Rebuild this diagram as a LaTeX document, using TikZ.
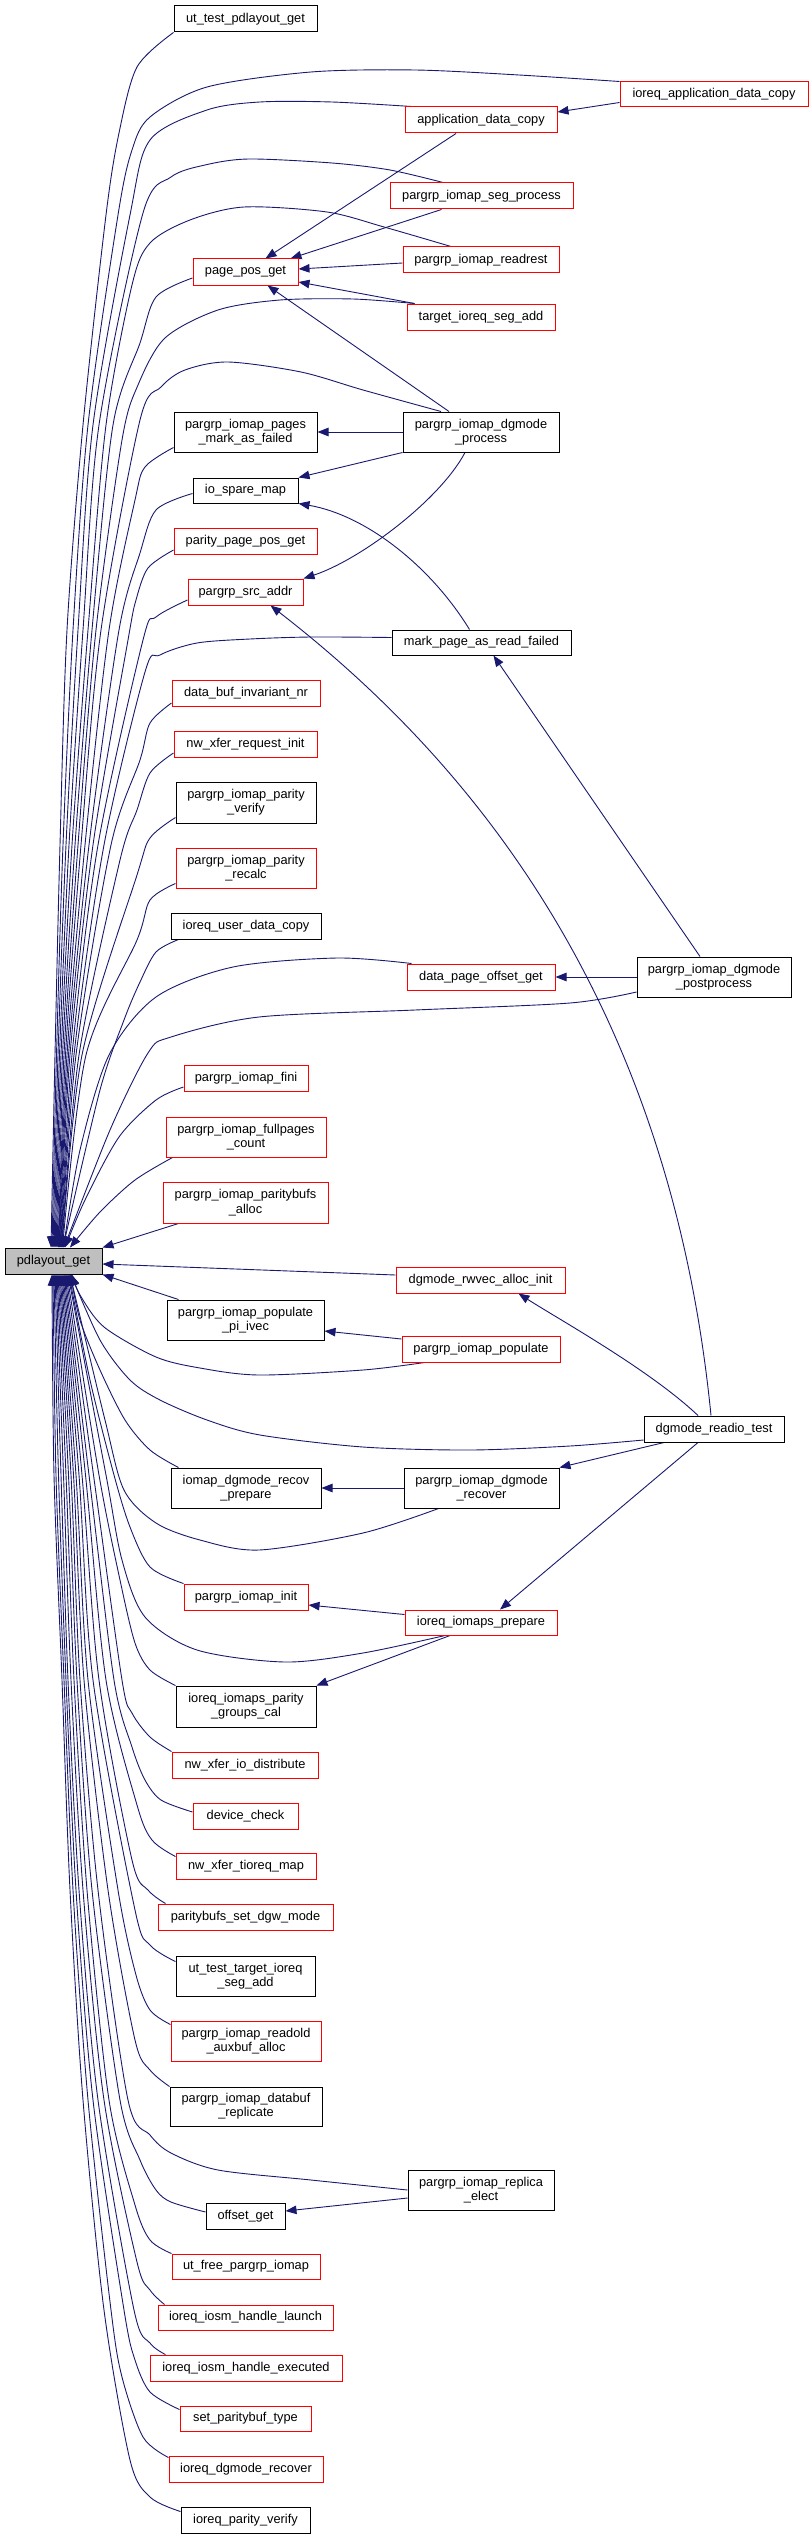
\documentclass[tikz,border=0pt]{standalone}
\usepackage{fontspec}
\setmainfont{Liberation Sans}
\usetikzlibrary{arrows.meta}
\definecolor{edgeblue}{HTML}{191970}
\definecolor{nodegray}{HTML}{BFBFBF}
\pgfdeclarelayer{paper}
\pgfdeclarelayer{edges}
\pgfsetlayers{paper,edges,main}
\tikzset{
  fn/.style={draw=black, line width=1pt, inner sep=0pt, align=center, fill=white,
    font=\fontsize{12.8}{14.3}\selectfont},
  rn/.style={fn, draw=red},
  ed/.style={draw=edgeblue, line width=0.9pt, -{Triangle[length=11pt,width=8.5pt]}},
  sm/.style={smooth, tension=0.5}
}
\begin{document}
\begin{tikzpicture}[x=1pt,y=-1pt]
\begin{pgfonlayer}{paper}
\fill[white] (0,0) rectangle (809,2539);
\end{pgfonlayer}
\useasboundingbox (0,0) rectangle (809,2539);
% nodes
\node[fn,minimum width=143pt,minimum height=26pt] (ut) at (245.5,19) {ut\_test\_pdlayout\_get};
\node[rn,minimum width=188pt,minimum height=25pt] (iadc) at (714,94.5) {ioreq\_application\_data\_copy};
\node[rn,minimum width=152pt,minimum height=26pt] (adc) at (481,120) {application\_data\_copy};
\node[rn,minimum width=183pt,minimum height=26pt] (segp) at (481.5,196) {pargrp\_iomap\_seg\_process};
\node[rn,minimum width=105pt,minimum height=26pt] (ppg) at (245.5,272) {page\_pos\_get};
\node[rn,minimum width=156pt,minimum height=26pt] (rr) at (481,260) {pargrp\_iomap\_readrest};
\node[rn,minimum width=148pt,minimum height=26pt] (tisa) at (481,317) {target\_ioreq\_seg\_add};
\node[fn,minimum width=143pt,minimum height=40pt] (maf) at (245.5,432) {pargrp\_iomap\_pages\\\_mark\_as\_failed};
\node[fn,minimum width=156pt,minimum height=40pt] (dgp) at (481,432) {pargrp\_iomap\_dgmode\\\_process};
\node[fn,minimum width=105pt,minimum height=25pt] (ism) at (245.5,490.5) {io\_spare\_map};
\node[rn,minimum width=143pt,minimum height=26pt] (pppg) at (245.5,541) {parity\_page\_pos\_get};
\node[rn,minimum width=115pt,minimum height=26pt] (psa) at (245.5,592) {pargrp\_src\_addr};
\node[fn,minimum width=179pt,minimum height=25pt] (mpf) at (481.5,642.5) {mark\_page\_as\_read\_failed};
\node[rn,minimum width=148pt,minimum height=26pt] (dbin) at (246,693) {data\_buf\_invariant\_nr};
\node[rn,minimum width=143pt,minimum height=26pt] (nxri) at (245.5,744) {nw\_xfer\_request\_init};
\node[fn,minimum width=140pt,minimum height=41pt] (ppv) at (246,802.5) {pargrp\_iomap\_parity\\\_verify};
\node[rn,minimum width=140pt,minimum height=40pt] (ppr) at (246,868) {pargrp\_iomap\_parity\\\_recalc};
\node[fn,minimum width=150pt,minimum height=26pt] (iudc) at (246,926) {ioreq\_user\_data\_copy};
\node[rn,minimum width=148pt,minimum height=26pt] (dpog) at (481,977) {data\_page\_offset\_get};
\node[fn,minimum width=154pt,minimum height=40pt] (dpp) at (714,977) {pargrp\_iomap\_dgmode\\\_postprocess};
\node[rn,minimum width=124pt,minimum height=26pt] (fini) at (246,1078) {pargrp\_iomap\_fini};
\node[rn,minimum width=160pt,minimum height=40pt] (fpc) at (246,1137) {pargrp\_iomap\_fullpages\\\_count};
\node[rn,minimum width=165pt,minimum height=41pt] (pba) at (245.5,1202.5) {pargrp\_iomap\_paritybufs\\\_alloc};
\node[fn,fill=nodegray,minimum width=97pt,minimum height=26pt] (pdl) at (53.5,1261) {pdlayout\_get};
\node[rn,minimum width=169pt,minimum height=26pt] (rwv) at (480.5,1280) {dgmode\_rwvec\_alloc\_init};
\node[fn,minimum width=157pt,minimum height=40pt] (ppi) at (245.5,1320) {pargrp\_iomap\_populate\\\_pi\_ivec};
\node[rn,minimum width=158pt,minimum height=26pt] (pop) at (481,1349) {pargrp\_iomap\_populate};
\node[fn,minimum width=140pt,minimum height=26pt] (drt) at (714,1429) {dgmode\_readio\_test};
\node[fn,minimum width=150pt,minimum height=40pt] (idrp) at (246,1488) {iomap\_dgmode\_recov\\\_prepare};
\node[fn,minimum width=155pt,minimum height=40pt] (pdr) at (481.5,1488) {pargrp\_iomap\_dgmode\\\_recover};
\node[rn,minimum width=124pt,minimum height=26pt] (init) at (246,1597) {pargrp\_iomap\_init};
\node[rn,minimum width=152pt,minimum height=25pt] (iip) at (481,1622.5) {ioreq\_iomaps\_prepare};
\node[fn,minimum width=140pt,minimum height=41pt] (ipgc) at (246,1706.5) {ioreq\_iomaps\_parity\\\_groups\_cal};
\node[rn,minimum width=146pt,minimum height=26pt] (nxid) at (245,1765) {nw\_xfer\_io\_distribute};
\node[rn,minimum width=105pt,minimum height=26pt] (dc) at (245.5,1816) {device\_check};
\node[rn,minimum width=140pt,minimum height=26pt] (nxtm) at (246,1866) {nw\_xfer\_tioreq\_map};
\node[rn,minimum width=175pt,minimum height=26pt] (psdm) at (245.5,1917) {paritybufs\_set\_dgw\_mode};
\node[fn,minimum width=139pt,minimum height=40pt] (uttisa) at (245.5,1976) {ut\_test\_target\_ioreq\\\_seg\_add};
\node[rn,minimum width=150pt,minimum height=40pt] (roaa) at (246,2041) {pargrp\_iomap\_readold\\\_auxbuf\_alloc};
\node[fn,minimum width=152pt,minimum height=39pt] (dbr) at (246,2106.5) {pargrp\_iomap\_databuf\\\_replicate};
\node[fn,minimum width=146pt,minimum height=40pt] (pre) at (481,2190) {pargrp\_iomap\_replica\\\_elect};
\node[fn,minimum width=79pt,minimum height=26pt] (og) at (245.5,2216) {offset\_get};
\node[rn,minimum width=148pt,minimum height=25pt] (ufpi) at (246,2266.5) {ut\_free\_pargrp\_iomap};
\node[rn,minimum width=175pt,minimum height=25pt] (ihl) at (245.5,2317.5) {ioreq\_iosm\_handle\_launch};
\node[rn,minimum width=192pt,minimum height=26pt] (ihe) at (246,2368) {ioreq\_iosm\_handle\_executed};
\node[rn,minimum width=131pt,minimum height=25pt] (spt) at (245.5,2418.5) {set\_paritybuf\_type};
\node[rn,minimum width=154pt,minimum height=26pt] (idr) at (246,2469) {ioreq\_dgmode\_recover};
\node[fn,minimum width=129pt,minimum height=26pt] (ipv) at (245.5,2520) {ioreq\_parity\_verify};

\begin{pgfonlayer}{edges}
% ---- edges into the top of pdlayout_get
\draw[ed] plot[sm] coordinates {(ut.south west) (137,67) (119,133) (106,215) (83,425) (67,630) (60,845) (55,1055) ([xshift=-2.5pt]pdl.north)};
\draw[ed] plot[sm] coordinates {(iadc.north west) (519,75) (415,70) (311,72) (207,87) (150,117) (132,150) (118,215) (88,425) (73,630) (63,845) (56.5,1055) ([xshift=-1.5pt]pdl.north)};
\draw[ed] plot[sm] coordinates {([xshift=7pt]adc.north west) (332,102) (260,102) (207,110) (150,140) (130,215) (93,425) (78,630) (66,845) (58,1055) ([xshift=-0.5pt]pdl.north)};
\draw[ed] plot[sm] coordinates {([xshift=-38.5pt]segp.north) (390,170) (332,163) (249,159) (205,165) (171,177) (143,213) (99,425) (83,630) (69,845) (59.5,1055) ([xshift=0.5pt]pdl.north)};
\draw[ed] plot[sm] coordinates {([xshift=-30pt]rr.north) (384,227) (327,212) (244,207) (190,220) (150,243) (132,285) (106,425) (88,630) (72,845) (61,1055) ([xshift=1.5pt]pdl.north)};
\draw[ed] plot[sm] coordinates {([yshift=-6pt]ppg.west) (156,297) (140,343) (113,425) (92,630) (75,845) (62.5,1055) ([xshift=2.5pt]pdl.north)};
\draw[ed] plot[sm] coordinates {([xshift=8pt]tisa.north west) (353,299) (280,300) (218,310) (165,338) (138,385) (122,440) (96,630) (78,845) (64,1055) ([xshift=3.5pt]pdl.north)};
\draw[ed] plot[sm] coordinates {([xshift=-40pt]dgp.north) (363,390) (301,372) (228,362) (185,370) (161,387) (140,420) (101,630) (81,845) (65.5,1055) ([xshift=4.5pt]pdl.north)};
\draw[ed] plot[sm] coordinates {([yshift=5pt]maf.south west) (145,467) (135,500) (109,630) (85,845) (67,1055) ([xshift=5pt]pdl.north)};
\draw[ed] plot[sm] coordinates {([yshift=-3pt]ism.west) (156,510) (140,553) (119,630) (89,845) (68.5,1055) ([xshift=5.5pt]pdl.north)};
\draw[ed] plot[sm] coordinates {([yshift=-9pt]pppg.west) (148,568) (136,600) (128,640) (93,845) (70,1055) ([xshift=6pt]pdl.north)};
\draw[ed] plot[sm] coordinates {([yshift=-8pt]psa.west) (156,617) (143,640) (98,845) (72,1055) ([xshift=6.5pt]pdl.north)};
\draw[ed] plot[sm] coordinates {([yshift=5pt]mpf.west) (311,637) (250,639) (197,643) (160,655) (145,672) (104,845) (74,1055) ([xshift=7pt]pdl.north)};
\draw[ed] plot[sm] coordinates {([yshift=-10pt]dbin.west) (150,723) (140,760) (111,845) (76,1055) ([xshift=7.5pt]pdl.north)};
\draw[ed] plot[sm] coordinates {([yshift=-9pt]nxri.west) (150,773) (137,810) (120,860) (79,1055) ([xshift=8pt]pdl.north)};
\draw[ed] plot[sm] coordinates {([yshift=6pt]ppv.south west) (150,838) (137,875) (82,1055) ([xshift=8.5pt]pdl.north)};
\draw[ed] plot[sm] coordinates {([yshift=5pt]ppr.south west) (150,900) (137,940) (86,1055) ([xshift=9pt]pdl.north)};
\draw[ed] plot[sm] coordinates {([xshift=8pt]iudc.south west) (156,952) (140,982) (124,1020) (100,1090) ([xshift=9.5pt]pdl.north)};
\draw[ed] plot[sm] coordinates {([xshift=5pt]dpog.north west) (337,958) (233,967) (156,997) (109,1055) (80,1150) ([xshift=10pt]pdl.north)};
\draw[ed] plot[sm] coordinates {([yshift=-15pt]dpp.west) (570,1003) (415,1010) (259,1017) (171,1037) (148,1053) (110,1130) ([xshift=10.5pt]pdl.north)};
\draw[ed] plot[sm] coordinates {([yshift=-9pt]fini.west) (156,1100) (119,1137) (85,1200) ([xshift=11.5pt]pdl.north)};
\draw[ed] plot[sm] coordinates {([xshift=7pt]fpc.south west) (135,1180) (100,1212) ([xshift=16.5pt]pdl.north)};
\draw[ed] ([xshift=16pt]pba.south west) -- (pdl.north east);
% ---- edges into the bottom/right of pdlayout_get
\draw[ed] ([yshift=5pt]rwv.west) -- ([yshift=-3pt]pdl.east);
\draw[ed] ([xshift=12pt]ppi.north west) -- (pdl.south east);
\draw[ed] plot[sm] coordinates {([xshift=23pt]pop.south west) (363,1370) (259,1375) (200,1368) (156,1357) (104,1327) (80,1295) ([xshift=18.5pt]pdl.south)};
\draw[ed] plot[sm] coordinates {([yshift=-11pt]drt.west) (570,1446) (470,1450) (363,1447) (260,1435) (207,1420) (160,1400) (130,1380) (100,1340) ([xshift=17.5pt]pdl.south)};
\draw[ed] plot[sm] coordinates {([xshift=8pt]idrp.north west) (150,1450) (125,1420) (100,1370) (80,1320) ([xshift=17pt]pdl.south)};
\draw[ed] plot[sm] coordinates {([xshift=-43pt]pdr.south) (363,1533) (259,1550) (200,1540) (156,1523) (124,1490) (105,1420) ([xshift=16.5pt]pdl.south)};
\draw[ed] plot[sm] coordinates {(init.north west) (150,1567) (130,1527) (114,1475) (90,1380) ([xshift=15.5pt]pdl.south)};
\draw[ed] plot[sm] coordinates {([xshift=-36pt]iip.south) (363,1653) (285,1662) (197,1650) (145,1617) (122,1560) (106,1475) ([xshift=14.5pt]pdl.south)};
\draw[ed] plot[sm] coordinates {(ipgc.north west) (150,1670) (135,1643) (120,1580) (99,1475) ([xshift=13.5pt]pdl.south)};
\draw[ed] plot[sm] coordinates {(nxid.north west) (150,1737) (132,1713) (122,1680) (93.5,1475) ([xshift=12.5pt]pdl.south)};
\draw[ed] plot[sm] coordinates {([yshift=4pt]dc.west) (161,1800) (145,1780) (132,1747) (114,1680) (89,1475) ([xshift=11.5pt]pdl.south)};
\draw[ed] plot[sm] coordinates {([yshift=-4pt]nxtm.north west) (152,1840) (137,1805) (106,1680) (85.5,1475) ([xshift=10.5pt]pdl.south)};
\draw[ed] plot[sm] coordinates {([xshift=8pt]psdm.north west) (148,1890) (132,1860) (99,1680) (82,1475) ([xshift=9.5pt]pdl.south)};
\draw[ed] plot[sm] coordinates {([yshift=-6pt]uttisa.north west) (150,1945) (135,1910) (93,1680) (79,1475) ([xshift=8.5pt]pdl.south)};
\draw[ed] plot[sm] coordinates {([yshift=-4pt]roaa.north west) (150,2010) (136,1975) (118,1890) (88,1680) (76,1475) ([xshift=7.5pt]pdl.south)};
\draw[ed] plot[sm] coordinates {(dbr.north west) (150,2070) (135,2040) (108,1890) (84,1680) (73.5,1475) ([xshift=6.5pt]pdl.south)};
\draw[ed] plot[sm] coordinates {(pre.west) (311,2180) (218,2170) (171,2153) (150,2135) (128,2100) (98,1890) (80,1680) (71,1475) ([xshift=5.5pt]pdl.south)};
\draw[ed] plot[sm] coordinates {([yshift=4pt]og.west) (171,2202) (156,2190) (140,2160) (120,2100) (92,1890) (77,1680) (68.5,1475) ([xshift=4.5pt]pdl.south)};
\draw[ed] plot[sm] coordinates {(ufpi.north west) (150,2240) (135,2205) (109,2100) (87,1890) (74,1680) (66,1475) ([xshift=3.5pt]pdl.south)};
\draw[ed] plot[sm] coordinates {([xshift=7pt]ihl.north west) (150,2290) (137,2262) (104,2100) (83,1890) (71,1680) (63.5,1475) ([xshift=2.5pt]pdl.south)};
\draw[ed] plot[sm] coordinates {([xshift=16pt]ihe.north west) (150,2343) (134,2310) (98,2100) (79,1890) (68,1680) (61,1475) ([xshift=1.5pt]pdl.south)};
\draw[ed] plot[sm] coordinates {([yshift=-4pt]spt.north west) (150,2392) (135,2360) (124,2310) (93,2100) (76,1890) (66,1680) (58.5,1475) ([xshift=0.5pt]pdl.south)};
\draw[ed] plot[sm] coordinates {([yshift=-2pt]idr.north west) (143,2437) (122,2377) (111,2310) (88,2100) (73,1890) (64,1680) (56,1475) ([xshift=-0.5pt]pdl.south)};
\draw[ed] plot[sm] coordinates {([yshift=-5pt]ipv.north west) (150,2497) (130,2460) (104,2310) (83,2100) (70,1890) (62,1680) (54,1475) ([xshift=-1.5pt]pdl.south)};
% ---- other edges
\draw[ed] ([yshift=-8pt]iadc.west) -- ([yshift=8pt]adc.east);
\draw[ed] ([xshift=-25pt]adc.south) -- ([xshift=20pt]ppg.north);
\draw[ed] ([xshift=-40pt]segp.south) -- ([xshift=-8pt]ppg.north east);
\draw[ed] ([yshift=-3pt]rr.west) -- ([yshift=3pt]ppg.east);
\draw[ed] ([xshift=8pt]tisa.north west) -- ([yshift=-10pt]ppg.east);
\draw[ed] ([xshift=-32pt]dgp.north) -- ([xshift=22pt]ppg.south);
\draw[ed] (dgp.west) -- (maf.east);
\draw[ed] (dgp.south west) -- (ism.north east);
\draw[ed] ([xshift=-16pt]dgp.south) .. controls (440,500) and (360,560) .. (psa.north east);
\draw[ed] ([xshift=-12pt]mpf.north) .. controls (430,565) and (365,515) .. (ism.south east);
\draw[ed] ([xshift=-3pt]drt.north) .. controls (670,1000) and (470,760) .. ([xshift=25pt]psa.south);
\draw[ed] ([xshift=-16pt]drt.north) .. controls (650,1370) and (560,1320) .. ([xshift=38pt]rwv.south);
\draw[ed] ([xshift=-14pt]dpp.north) -- ([xshift=12pt]mpf.south);
\draw[ed] (dpp.west) -- (dpog.east);
\draw[ed] ([yshift=10pt]pop.west) -- ([yshift=-11pt]ppi.east);
\draw[ed] ([xshift=-50pt]drt.south) -- (pdr.north east);
\draw[ed] ([xshift=-16pt]drt.south) -- ([xshift=19pt]iip.north);
\draw[ed] (pdr.west) -- (idrp.east);
\draw[ed] ([yshift=8pt]iip.west) -- ([yshift=-8pt]init.east);
\draw[ed] ([xshift=-31pt]iip.south) -- (ipgc.north east);
\draw[ed] ([yshift=-8pt]pre.west) -- ([yshift=5pt]og.east);
\end{pgfonlayer}
\end{tikzpicture}
\end{document}
